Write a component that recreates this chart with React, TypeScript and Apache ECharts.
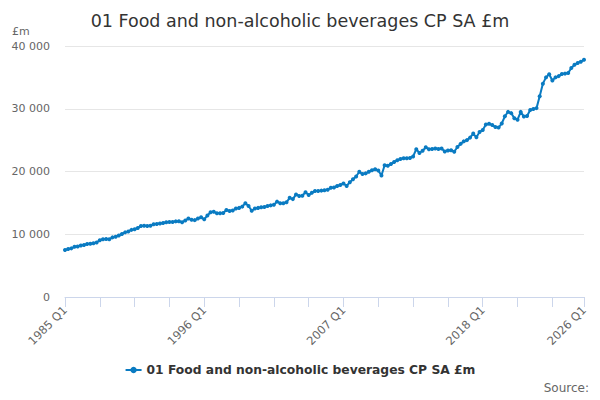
import React, { useEffect, useRef } from "react";
import * as echarts from "echarts";

const TITLE = "01 Food and non-alcoholic beverages CP SA £m";
const SERIES_NAME = "01 Food and non-alcoholic beverages CP SA £m";
const START_YEAR = 1985;
const END_YEAR = 2026;

const categories: string[] = [];
for (let y = START_YEAR; y <= END_YEAR; y++) {
  for (let q = 1; q <= 4; q++) {
    if (y === END_YEAR && q > 1) break;
    categories.push(`${y} Q${q}`);
  }
}

const values: number[] = [
  7500, 7650, 7750, 8000, // 1985
  8050, 8200, 8300, 8450, // 1986
  8500, 8550, 8700, 9050, // 1987
  9200, 9250, 9200, 9500, // 1988
  9600, 9800, 10050, 10300, // 1989
  10450, 10700, 10800, 11000, // 1990
  11300, 11350, 11300, 11350, // 1991
  11600, 11650, 11700, 11800, // 1992
  11900, 11950, 11950, 12050, // 1993
  12070, 11900, 12200, 12500, // 1994
  12300, 12250, 12500, 12700, // 1995
  12380, 13000, 13500, 13600, // 1996
  13340, 13350, 13400, 13870, // 1997
  13700, 13800, 14100, 14200, // 1998
  14400, 14930, 14500, 13750, // 1999
  14100, 14200, 14300, 14350, // 2000
  14500, 14600, 14700, 15200, // 2001
  14950, 14950, 15100, 15800, // 2002
  15600, 16350, 16100, 16150, // 2003
  16700, 16250, 16600, 16900, // 2004
  16900, 16950, 17000, 17100, // 2005
  17400, 17450, 17700, 17850, // 2006
  18100, 17700, 18300, 18750, // 2007
  19200, 19950, 19600, 19700, // 2008
  19950, 20200, 20350, 20150, // 2009
  19350, 21000, 20900, 21200, // 2010
  21500, 21800, 22000, 22100, // 2011
  22100, 22150, 22400, 23550, // 2012
  22950, 23300, 23850, 23550, // 2013
  23600, 23650, 23600, 23650, // 2014
  23200, 23350, 23400, 23150, // 2015
  23900, 24400, 24800, 25000, // 2016
  25400, 26050, 25450, 26300, // 2017
  26600, 27500, 27600, 27400, // 2018
  27100, 27000, 27650, 28800, // 2019
  29500, 29300, 28500, 28250, // 2020
  29500, 28750, 28850, 29800, // 2021
  29950, 30100, 32000, 34000, // 2022
  35000, 35500, 34500, 35000, // 2023
  35200, 35550, 35600, 35700, // 2024
  36500, 37000, 37300, 37500, // 2025
  37800, // 2026
];

const yTicks = [0, 10000, 20000, 30000, 40000];
const Y_INTERVAL = 10000;
const LABEL_EVERY = 44;
const TICK_EVERY = 11;

const LINE_COLOR = "#0a7bc2";
const FONT = "DejaVu Sans";

export default function App() {
  const ref = useRef<HTMLDivElement>(null);

  useEffect(() => {
    if (!ref.current) return;
    const chart = echarts.init(ref.current, undefined, { renderer: "svg" });
    const last = categories.length - 1;
    chart.setOption({
      animation: false,
      backgroundColor: "#ffffff",
      textStyle: { fontFamily: FONT },
      title: {
        text: TITLE,
        left: "center",
        top: 7,
        textStyle: { fontFamily: FONT, fontSize: 17.5, fontWeight: "normal", color: "#333333" },
      },
      graphic: [
        {
          type: "text",
          left: 12,
          top: 26,
          style: { text: "£m", fontFamily: FONT, fontSize: 11, fill: "#666666" },
        },
        {
          type: "text",
          right: 11,
          top: 382,
          style: { text: "Source:", fontFamily: FONT, fontSize: 12, fill: "#666666" },
        },
      ],
      legend: {
        bottom: 19,
        left: "center",
        itemWidth: 16,
        itemHeight: 8,
        data: [SERIES_NAME],
        textStyle: { fontFamily: FONT, fontSize: 12.3, fontWeight: "bold", color: "#333333" },
      },
      grid: { left: 65, right: 16, top: 46, bottom: 103, containLabel: false },
      xAxis: {
        type: "category",
        data: categories,
        boundaryGap: false,
        axisLine: { lineStyle: { color: "#ccd6eb", width: 1 } },
        axisTick: {
          length: 10,
          lineStyle: { color: "#ccd6eb" },
          interval: (i: number) => i % TICK_EVERY === 0 || i === last,
        },
        axisLabel: {
          rotate: 45,
          margin: 11,
          fontFamily: FONT,
          fontSize: 11.5,
          color: "#666666",
          interval: (i: number) => i % LABEL_EVERY === 0 || i === last,
        },
        splitLine: { show: false },
      },
      yAxis: {
        type: "value",
        min: yTicks[0],
        max: yTicks[yTicks.length - 1],
        interval: Y_INTERVAL,
        axisLine: { show: false },
        axisTick: { show: false },
        axisLabel: {
          fontFamily: FONT,
          fontSize: 11,
          color: "#666666",
          margin: 15,
          formatter: (v: number) => String(v).replace(/\B(?=(\d{3})+(?!\d))/g, " "),
        },
        splitLine: { lineStyle: { color: "#e6e6e6", width: 1 } },
      },
      series: [
        {
          name: SERIES_NAME,
          type: "line",
          data: values,
          color: LINE_COLOR,
          symbol: "circle",
          symbolSize: 4,
          showAllSymbol: true,
          lineStyle: { width: 2, color: LINE_COLOR },
          itemStyle: { color: LINE_COLOR },
        },
      ],
    });
    return () => chart.dispose();
  }, []);

  return <div ref={ref} style={{ width: 600, height: 400, margin: -8 }} />;
}
